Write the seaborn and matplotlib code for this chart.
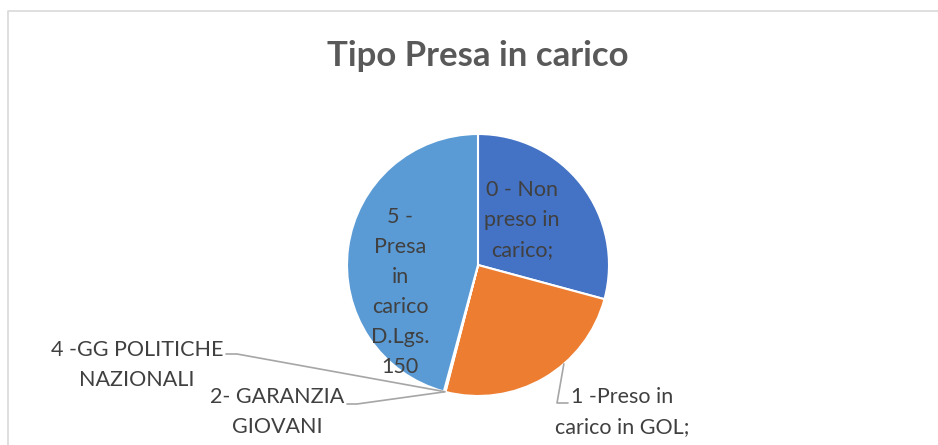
import matplotlib
matplotlib.use("Agg")
import matplotlib.pyplot as plt
import seaborn as sns
import numpy as np

# Data
categories = ["0 - Non preso in carico", "1 -Preso in carico in GOL",
              "2- GARANZIA GIOVANI", "4 -GG POLITICHE NAZIONALI",
              "5 - Presa in carico D.Lgs. 150"]
values = [29.2, 24.8, 0.1, 0.1, 45.8]
label_texts = ["0 - Non\npreso in\ncarico;", "1 -Preso in\ncarico in GOL;",
               "2- GARANZIA\nGIOVANI", "4 -GG POLITICHE\nNAZIONALI",
               "5 -\nPresa\nin\ncarico\nD.Lgs.\n150"]
colors = ["#4472C4", "#ED7D31", "#A5A5A5", "#FFC000", "#5B9BD5"]
title = "Tipo Presa in carico"

W, H = 938, 445

sns.set_theme(style="white")
plt.rcParams["font.family"] = ["Lato", "DejaVu Sans"]

fig = plt.figure(figsize=(W / 100, H / 100), dpi=100)
ax = fig.add_axes([0, 0, 1, 1])

def py(y):
    # image pixel row -> data y (y up)
    return H - y

cx, cy, r = 478, py(265), 131
wedges, _ = ax.pie(values, colors=colors, startangle=90, counterclock=False,
                   center=(cx, cy), radius=r,
                   wedgeprops=dict(edgecolor="white", linewidth=1.5))
ax.set_xlim(0, W)
ax.set_ylim(0, H)
ax.set_aspect("equal")
ax.axis("off")

txt = "#404040"
fs = 15.5
ls = 1.62

# labels inside the big slices
ax.text(522, py(220), label_texts[0], ha="center", va="center",
        fontsize=fs, color=txt, linespacing=ls)
ax.text(400, py(292), label_texts[4], ha="center", va="center",
        fontsize=fs, color=txt, linespacing=ls)

def edge_point(w, frac=0.5):
    a = np.deg2rad(w.theta1 + (w.theta2 - w.theta1) * frac)
    return cx + r * np.cos(a), cy + r * np.sin(a)

lc = "#A6A6A6"
# slice 1
ex, ey = edge_point(wedges[1], 0.62)
ax.plot([ex, 557, 568], [ey, py(403), py(403)], color=lc, lw=1.2)
ax.text(622, py(412), label_texts[1], ha="center", va="center",
        fontsize=fs, color=txt, linespacing=ls)
# slice 2
ex, ey = edge_point(wedges[2])
ax.plot([ex, 357, 347], [ey, py(404), py(404)], color=lc, lw=1.2)
ax.text(277, py(412), label_texts[2], ha="center", va="center",
        fontsize=fs, color=txt, linespacing=ls)
# slice 4
ex, ey = edge_point(wedges[3])
ax.plot([ex, 237, 226], [ey, py(354), py(354)], color=lc, lw=1.2)
ax.text(137, py(365), label_texts[3], ha="center", va="center",
        fontsize=fs, color=txt, linespacing=ls)

ax.text(478, py(56), title, ha="center", va="center", fontsize=25,
        fontweight="bold", color="#595959")

# chart area border (left and top only visible)
ax.plot([8, 8, W + 5], [-5, py(11), py(11)], color="#D9D9D9", lw=1.2,
        clip_on=False)

fig.savefig("out.png", dpi=100)
